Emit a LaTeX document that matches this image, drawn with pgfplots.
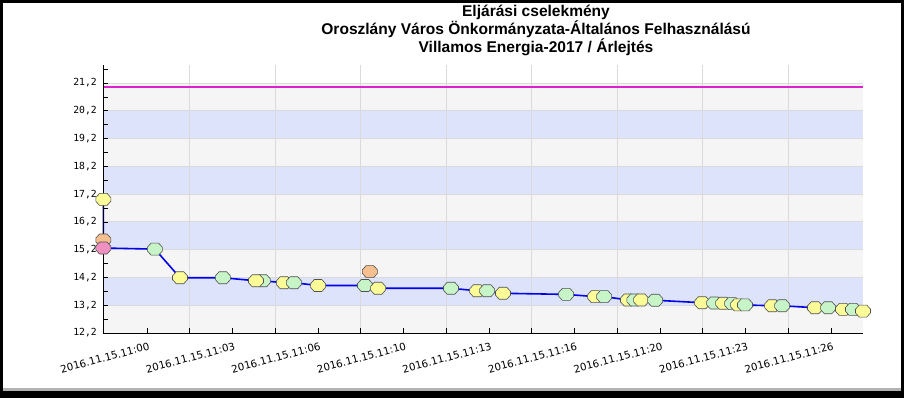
\documentclass[border=0pt]{standalone}
\usepackage{pgfplots}
\pgfplotsset{compat=1.18}
\usepackage{fontspec}
\setmainfont{DejaVu Sans}
\newfontfamily\titlefont{Liberation Sans}
\newfontfamily\monofont{DejaVu Sans Mono}
\definecolor{bandblue}{HTML}{DCE3FA}
\definecolor{bandgray}{HTML}{F5F5F5}
\definecolor{gridgray}{HTML}{DADADA}
\definecolor{magline}{HTML}{DD22CC}
\definecolor{lineblue}{HTML}{0000EE}
\definecolor{myyellow}{HTML}{FBFB98}
\definecolor{mygreen}{HTML}{C8F5C8}
\definecolor{myorange}{HTML}{F5BF90}
\definecolor{mypink}{HTML}{F090C0}
\definecolor{mkedge}{HTML}{505050}
\pgfdeclareplotmark{oct}{%
  \pgfpathmoveto{\pgfqpoint{-\pgfplotmarksize}{0.25\pgfplotmarksize}}%
  \pgfpathlineto{\pgfqpoint{-0.5\pgfplotmarksize}{0.8\pgfplotmarksize}}%
  \pgfpathlineto{\pgfqpoint{0.5\pgfplotmarksize}{0.8\pgfplotmarksize}}%
  \pgfpathlineto{\pgfqpoint{\pgfplotmarksize}{0.25\pgfplotmarksize}}%
  \pgfpathlineto{\pgfqpoint{\pgfplotmarksize}{-0.25\pgfplotmarksize}}%
  \pgfpathlineto{\pgfqpoint{0.5\pgfplotmarksize}{-0.8\pgfplotmarksize}}%
  \pgfpathlineto{\pgfqpoint{-0.5\pgfplotmarksize}{-0.8\pgfplotmarksize}}%
  \pgfpathlineto{\pgfqpoint{-\pgfplotmarksize}{-0.25\pgfplotmarksize}}%
  \pgfpathclose
  \pgfusepathqfillstroke}
\pgfplotstableread{
x y
-1.70 17.01
-1.70 15.55
-1.70 15.26
0.31 15.22
1.29 14.19
2.96 14.19
4.25 14.08
4.52 14.08
5.34 14.01
5.73 14.01
6.67 13.91
8.50 13.91
9.01 13.81
11.85 13.81
12.87 13.72
13.26 13.72
13.88 13.63
16.34 13.59
17.47 13.51
17.82 13.51
18.75 13.39
19.00 13.39
19.26 13.39
19.81 13.38
21.64 13.29
22.11 13.28
22.46 13.27
22.81 13.26
23.04 13.21
23.31 13.21
24.37 13.18
24.76 13.18
26.04 13.11
26.55 13.11
27.13 13.05
27.52 13.05
27.91 12.99
}\linedata
\pgfplotstableread{
x y c
-1.70 17.01 Y
-1.70 15.55 O
-1.70 15.26 P
0.31 15.22 G
1.29 14.19 Y
2.96 14.19 G
4.52 14.08 G
4.25 14.08 Y
5.34 14.01 Y
5.73 14.01 G
6.67 13.91 Y
8.69 14.41 O
8.50 13.91 G
9.01 13.81 Y
11.85 13.81 G
12.87 13.72 Y
13.26 13.72 G
13.88 13.63 Y
16.34 13.59 G
17.47 13.51 Y
17.82 13.51 G
18.75 13.39 Y
19.00 13.39 G
19.26 13.39 Y
19.81 13.38 G
21.64 13.29 Y
22.11 13.28 G
22.46 13.27 Y
22.81 13.26 G
23.04 13.21 Y
23.31 13.21 G
24.37 13.18 Y
24.76 13.18 G
26.04 13.11 Y
26.55 13.11 G
27.13 13.05 Y
27.52 13.05 G
27.91 12.99 Y
}\markdata
\begin{document}
\begin{tikzpicture}
\fill[black] (0bp,0bp) rectangle (904bp,398bp);
\fill[white] (3bp,9.7bp) rectangle (900.7bp,395bp);
\fill[gray!60] (3bp,7.4bp) rectangle (900.7bp,9.7bp);
\node[align=center, font=\titlefont\bfseries\fontsize{15.6}{15}\selectfont] at (536bp,368bp) {Eljárási cselekmény\\Oroszlány Város Önkormányzata-Általános Felhasználású\\Villamos Energia-2017 / Árlejtés};
\begin{axis}[
  at={(103.3bp,65bp)}, anchor=south west,
  scale only axis, width=759.7bp, height=268bp,
  xmin=-1.70, xmax=27.91, ymin=12.2, ymax=21.85,
  axis lines*=left, axis line style={black, line width=1bp, -},
  axis on top, clip=false,
  tick align=inside,
  major tick length=5bp, minor tick length=5bp,
  tick style={black, line width=0.8bp},
  ytick={12.2,13.2,14.2,15.2,16.2,17.2,18.2,19.2,20.2,21.2},
  minor ytick={12.7,13.7,14.7,15.7,16.7,17.7,18.7,19.7,20.7,21.7},
  yticklabel={\pgfmathprintnumber[use comma,fixed,fixed zerofill,precision=1,assume math mode=true]{\tick}},
  yticklabel style={font=\monofont\fontsize{9.8}{10}\selectfont, xshift=-3bp},
  xtick={0,3.33333,6.66667,10,13.33333,16.66667,20,23.33333,26.66667},
  xticklabels={2016.11.15.11:00,2016.11.15.11:03,2016.11.15.11:06,2016.11.15.11:10,2016.11.15.11:13,2016.11.15.11:16,2016.11.15.11:20,2016.11.15.11:23,2016.11.15.11:26},
  minor xtick={1.66667,5,8.33333,11.66667,15,18.33333,21.66667,25},
  xticklabel style={font=\fontsize{10.3}{11}\selectfont, rotate=15, anchor=north east, inner sep=1bp, yshift=-8bp},
  mark size=7.5bp,
]
\fill[bandgray] (axis cs:-1.70,12.2) rectangle (axis cs:27.91,21.2);
\pgfplotsinvokeforeach{13.2,15.2,17.2,19.2}{
  \fill[bandblue] (axis cs:-1.70,#1) rectangle (axis cs:27.91,#1+1);
}
\pgfplotsinvokeforeach{13.2,14.2,15.2,16.2,17.2,18.2,19.2,20.2,21.2}{
  \draw[gridgray, line width=0.9bp] (axis cs:-1.70,#1) -- (axis cs:27.91,#1);
}
\pgfplotsinvokeforeach{1.66667,5,8.33333,11.66667,15,18.33333,21.66667,25}{
  \draw[gridgray, line width=0.9bp] (axis cs:#1,12.2) -- (axis cs:#1,21.85);
}
\addplot[color=magline, line width=1.8bp, no marks] coordinates {(-1.70,21.05) (27.91,21.05)};
\addplot[color=lineblue, line width=1.6bp, no marks] table[x=x,y=y] {\linedata};
\addplot[scatter, only marks, scatter src=explicit symbolic,
  scatter/classes={
    Y={mark=oct, fill=myyellow, draw=mkedge, line width=0.6bp},
    G={mark=oct, fill=mygreen, draw=mkedge, line width=0.6bp},
    O={mark=oct, fill=myorange, draw=mkedge, line width=0.6bp},
    P={mark=oct, fill=mypink, draw=mkedge, line width=0.6bp}}
  ] table[x=x, y=y, meta=c] {\markdata};
\end{axis}
\end{tikzpicture}
\end{document}
